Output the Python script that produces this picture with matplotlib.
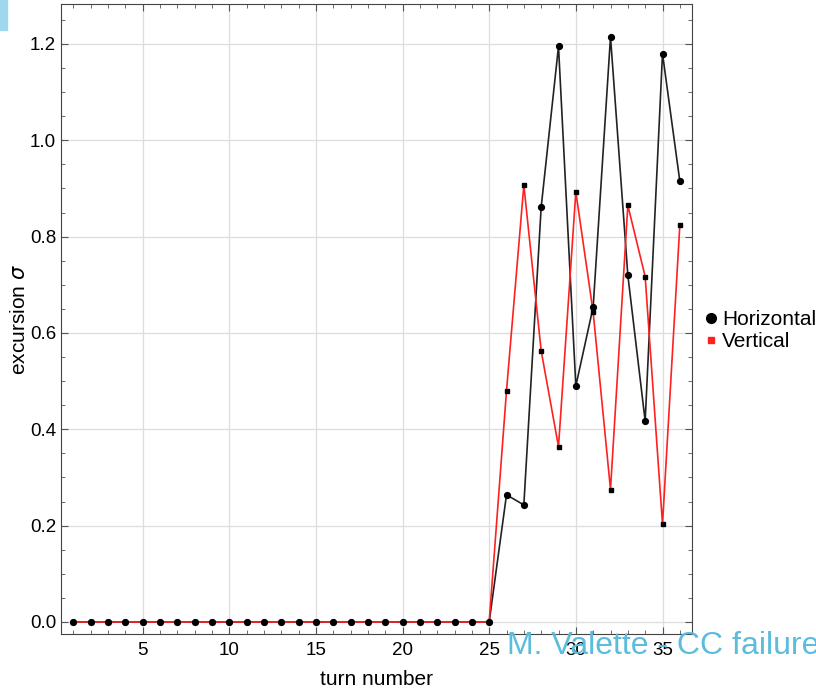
import matplotlib
matplotlib.use("Agg")
import matplotlib.pyplot as plt
import matplotlib.patches as patches
from matplotlib.lines import Line2D
from matplotlib.ticker import MultipleLocator

plt.rcParams['font.family'] = ['Liberation Sans', 'DejaVu Sans']

# data
turns = list(range(1, 37))
horizontal = [0.0] * 25 + [0.264, 0.243, 0.861, 1.195, 0.490, 0.654,
                           1.215, 0.720, 0.417, 1.180, 0.915]
vertical = [0.0] * 25 + [0.480, 0.907, 0.563, 0.364, 0.893, 0.643,
                         0.275, 0.865, 0.717, 0.203, 0.824]
series_names = ['Horizontal', 'Vertical']
x_ticks = [5, 10, 15, 20, 25, 30, 35]
y_ticks = [0.0, 0.2, 0.4, 0.6, 0.8, 1.0, 1.2]

fig = plt.figure(figsize=(8.16, 6.92), dpi=100)
ax = fig.add_axes([0.0748, 0.0838, 0.7732, 0.9097])

# lines first, then points on top
ax.plot(turns, horizontal, color='#222222', lw=1.2, zorder=2)
ax.plot(turns, vertical, color='#ff2020', lw=1.2, zorder=3)
ax.plot(turns, horizontal, ls='none', marker='o', ms=4.2, color='black', zorder=4)
ax.plot(turns, vertical, ls='none', marker='s', ms=2.3, color='black', zorder=5)

ax.set_xlim(0.3, 36.7)
ax.set_ylim(-0.025, 1.282)
ax.set_xticks(x_ticks)
ax.set_yticks(y_ticks)
ax.set_yticklabels(['%.1f' % v for v in y_ticks])
ax.xaxis.set_minor_locator(MultipleLocator(1))
ax.yaxis.set_minor_locator(MultipleLocator(0.05))
ax.tick_params(which='both', direction='in', top=True, right=True,
               labelsize=13.5, color='#555555')
ax.tick_params(which='major', length=5)
ax.tick_params(which='minor', length=3)
ax.tick_params(axis='x', pad=6)
ax.grid(True, which='major', color='#dddddd', lw=0.9)
ax.set_axisbelow(True)
for s in ax.spines.values():
    s.set_color('#444444')

ax.set_xlabel('turn number', fontsize=15, labelpad=8)
ax.set_ylabel('excursion $\\sigma$', fontsize=15, labelpad=1)

handles = [Line2D([], [], ls='none', marker='o', ms=7, color='black'),
           Line2D([], [], ls='none', marker='s', ms=5, color='#ff2020')]
fig.legend(handles, series_names, loc='center left',
           bbox_to_anchor=(0.848, 0.522), frameon=False, fontsize=15,
           handletextpad=0.05, handlelength=1.0, labelspacing=0.15,
           borderaxespad=0)

# slide decorations
fig.patches.append(patches.Rectangle((0, 0.957), 0.008, 0.043,
                                     transform=fig.transFigure,
                                     color='#9fd8ee', zorder=0))
fig.text(0.621, 0.055, 'M. Valette - CC failure', color='#5bbcdc',
         fontsize=23, ha='left', va='baseline')

fig.savefig('out.png', dpi=100)
